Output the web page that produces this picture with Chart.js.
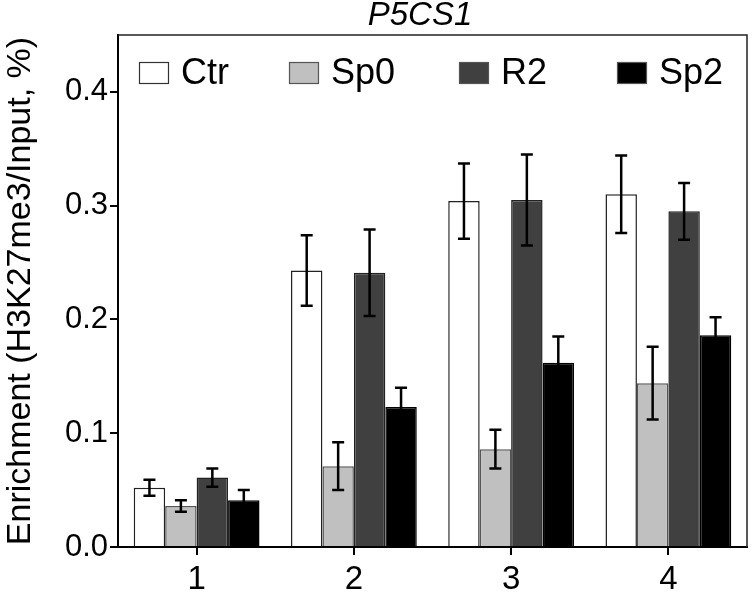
<!DOCTYPE html>
<html>
<head>
<meta charset="utf-8">
<script src="https://cdn.jsdelivr.net/npm/chart.js@4.4.0/dist/chart.umd.min.js"></script>
<style>
  html, body { margin: 0; padding: 0; background: #fff; }
  #wrap { width: 752px; height: 598px; }
</style>
</head>
<body>
<div id="wrap"><canvas id="chart" width="752" height="598"></canvas></div>
<script>
// Data (enrichment, %)
const categories = ["1", "2", "3", "4"];
const seriesNames = ["Ctr", "Sp0", "R2", "Sp2"];
const ctrValues = [0.052, 0.243, 0.304, 0.310];
const ctrErrors = [0.007, 0.031, 0.033, 0.034];
const sp0Values = [0.036, 0.071, 0.086, 0.144];
const sp0Errors = [0.005, 0.021, 0.017, 0.032];
const r2Values  = [0.061, 0.241, 0.305, 0.295];
const r2Errors  = [0.008, 0.038, 0.040, 0.025];
const sp2Values = [0.041, 0.123, 0.162, 0.186];
const sp2Errors = [0.009, 0.017, 0.023, 0.016];
const yTicks = [0.0, 0.1, 0.2, 0.3, 0.4];

const FONT = '"Liberation Sans", Arial, Helvetica, sans-serif';

const fills   = ["#ffffff", "#c0c0c0", "#404040", "#000000"];
const borders = ["#222222", "#555555", "#222222", "#000000"];
const values  = [ctrValues, sp0Values, r2Values, sp2Values];
const errors  = [ctrErrors, sp0Errors, r2Errors, sp2Errors];

// error bars (symmetric, capped)
const errorBars = {
    id: "errorBars",
    afterDatasetsDraw(chart) {
        const ctx = chart.ctx;
        const y = chart.scales.y;
        ctx.save();
        ctx.strokeStyle = "#000";
        ctx.lineWidth = 2.5;
        chart.data.datasets.forEach((ds, di) => {
            const meta = chart.getDatasetMeta(di);
            meta.data.forEach((bar, i) => {
                const v = ds.data[i], e = ds.errors[i];
                const top = y.getPixelForValue(v + e);
                const bot = y.getPixelForValue(v - e);
                ctx.beginPath();
                ctx.moveTo(bar.x, top); ctx.lineTo(bar.x, bot);
                ctx.moveTo(bar.x - 6, top); ctx.lineTo(bar.x + 6, top);
                ctx.moveTo(bar.x - 6, bot); ctx.lineTo(bar.x + 6, bot);
                ctx.stroke();
            });
        });
        ctx.restore();
    }
};

// top/right frame, title and in-plot legend
const frameAndLegend = {
    id: "frameAndLegend",
    afterDraw(chart) {
        const ctx = chart.ctx;
        const a = chart.chartArea;
        ctx.save();
        ctx.strokeStyle = "#222";
        ctx.lineWidth = 1.5;
        ctx.beginPath();
        ctx.moveTo(a.left, a.top); ctx.lineTo(a.right, a.top); ctx.lineTo(a.right, a.bottom);
        ctx.stroke();

        ctx.fillStyle = "#000";
        ctx.font = "italic 33px " + FONT;
        ctx.textAlign = "center";
        ctx.textBaseline = "middle";
        ctx.fillText("P5CS1", 420, 16);

        const boxX = [21, 171, 341, 499];
        ctx.font = "36px " + FONT;
        ctx.textAlign = "left";
        chart.data.datasets.forEach((ds, i) => {
            const x = a.left + boxX[i];
            const yb = 62;
            ctx.fillStyle = ds.backgroundColor;
            ctx.fillRect(x, yb, 30, 22);
            ctx.lineWidth = 1.2;
            ctx.strokeStyle = i === 0 ? "#333" : "#555";
            ctx.strokeRect(x + 0.5, yb + 0.5, 29, 21);
            ctx.fillStyle = "#000";
            ctx.fillText(ds.label, x + 42, yb + 12);
        });
        ctx.restore();
    }
};

new Chart(document.getElementById("chart"), {
    type: "bar",
    data: {
        labels: categories,
        datasets: seriesNames.map((name, i) => ({
            label: name,
            data: values[i],
            errors: errors[i],
            backgroundColor: fills[i],
            borderColor: borders[i],
            borderWidth: 1.5,
            categoryPercentage: 0.8,
            barPercentage: 1.0
        }))
    },
    options: {
        responsive: false,
        animation: false,
        layout: { padding: { top: 35, right: 5, left: 0, bottom: 0 } },
        plugins: { legend: { display: false }, title: { display: false }, tooltip: { enabled: false } },
        scales: {
            x: {
                afterFit: s => { s.height = 51; },
                grid: { display: true, drawOnChartArea: false, offset: false, tickLength: 8, color: "#000", lineWidth: 2 },
                border: { display: true, color: "#000", width: 2 },
                ticks: { color: "#000", font: { family: FONT, size: 33 }, padding: 5 }
            },
            y: {
                min: 0,
                max: 0.45,
                afterFit: s => { s.width = 118; },
                afterBuildTicks: s => { s.ticks = yTicks.map(v => ({ value: v })); },
                grid: { display: true, drawOnChartArea: false, tickLength: 8, color: "#000", lineWidth: 2 },
                border: { display: true, color: "#000", width: 2 },
                ticks: { color: "#000", font: { family: FONT, size: 31 }, padding: 2, callback: v => v.toFixed(1) },
                title: { display: true, text: "Enrichment (H3K27me3/Input, %)", color: "#000", font: { family: FONT, size: 34 }, padding: 0 }
            }
        }
    },
    plugins: [errorBars, frameAndLegend]
});
</script>
</body>
</html>
